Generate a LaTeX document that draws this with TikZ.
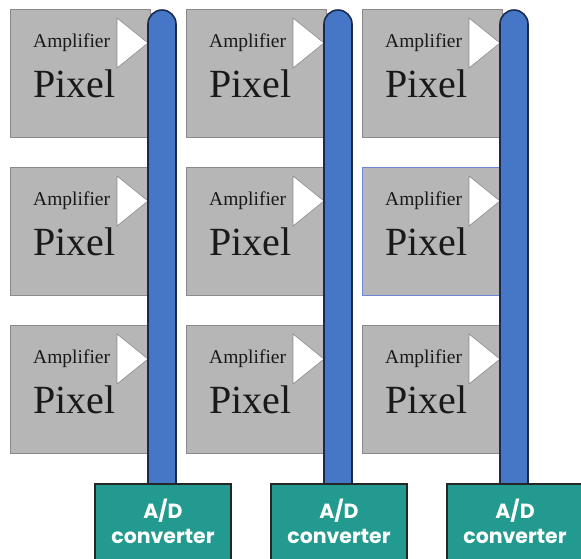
\documentclass[tikz,border=0pt]{standalone}
\usepackage{fontspec}
\usetikzlibrary{calc}
\setmainfont{Liberation Serif}
\newfontfamily\adfont{Poppins}
\definecolor{pixgray}{HTML}{B6B6B6}
\definecolor{pixline}{HTML}{8A8A8A}
\definecolor{busblue}{HTML}{4677C6}
\definecolor{busline}{HTML}{1B2A4A}
\definecolor{adteal}{HTML}{239A8F}
\definecolor{selblue}{HTML}{6F86D6}
\tikzset{
  pixbox/.style={draw=pixline, fill=pixgray, line width=0.8pt},
  amptri/.style={draw=pixline, fill=white, line width=0.6pt},
  bus/.style={draw=busline, fill=busblue, line width=1.6pt},
  adbox/.style={draw=black!85, fill=adteal, line width=1.6pt},
  amptext/.style={font=\fontsize{19.5}{21}\selectfont, text=black!90, inner sep=0pt, anchor=base west},
  pixtext/.style={font=\fontsize{40}{42}\selectfont, text=black!90, inner sep=0pt, anchor=base west},
  adtext/.style={font=\adfont\bfseries\fontsize{20.5}{22}\selectfont, text=white, inner sep=0pt}
}
\begin{document}
\begin{tikzpicture}[x=1pt,y=-1pt]
\useasboundingbox (0,0) rectangle (581,558);
\clip (0,0) rectangle (581,558);
\fill[white] (0,0) rectangle (581,558);
% pixel boxes
\foreach \c/\cx in {1/10,2/186,3/362}{
  \foreach \r/\ry in {1/9,2/167,3/325}{
    \ifnum\c\r=32
      \node[pixbox, draw=selblue, minimum width=140pt, minimum height=128pt, inner sep=0pt, anchor=north west] (p\c\r) at (\cx,\ry) {};
    \else
      \node[pixbox, minimum width=140pt, minimum height=128pt, inner sep=0pt, anchor=north west] (p\c\r) at (\cx,\ry) {};
    \fi
    \node[amptext] (a\c\r) at ($(\cx,\ry)+(23,38)$) {Amplifier};
    \node[pixtext] (t\c\r) at ($(\cx,\ry)+(23,88)$) {Pixel};
    \draw[amptri] ($(\cx,\ry)+(107,9)$) -- ($(\cx,\ry)+(138,34)$) -- ($(\cx,\ry)+(107,59)$) -- cycle;
  }
}
% buses
\foreach \c/\bx in {1/148,2/324,3/500}{
  \draw[bus] (\bx,484) -- (\bx,24) arc[start angle=180, end angle=0, radius=14pt] -- (\bx+28,484);
  \coordinate (b\c) at (\bx+14,484);
}
% A/D converters
\foreach \c/\ax in {1/95,2/271,3/447}{
  \draw[adbox] (\ax,484) rectangle (\ax+136,575);
  \node[adtext] (ad\c) at (\ax+68,511) {A/D};
  \node[adtext] (cv\c) at (\ax+68,536) {converter};
}
\end{tikzpicture}
\end{document}
